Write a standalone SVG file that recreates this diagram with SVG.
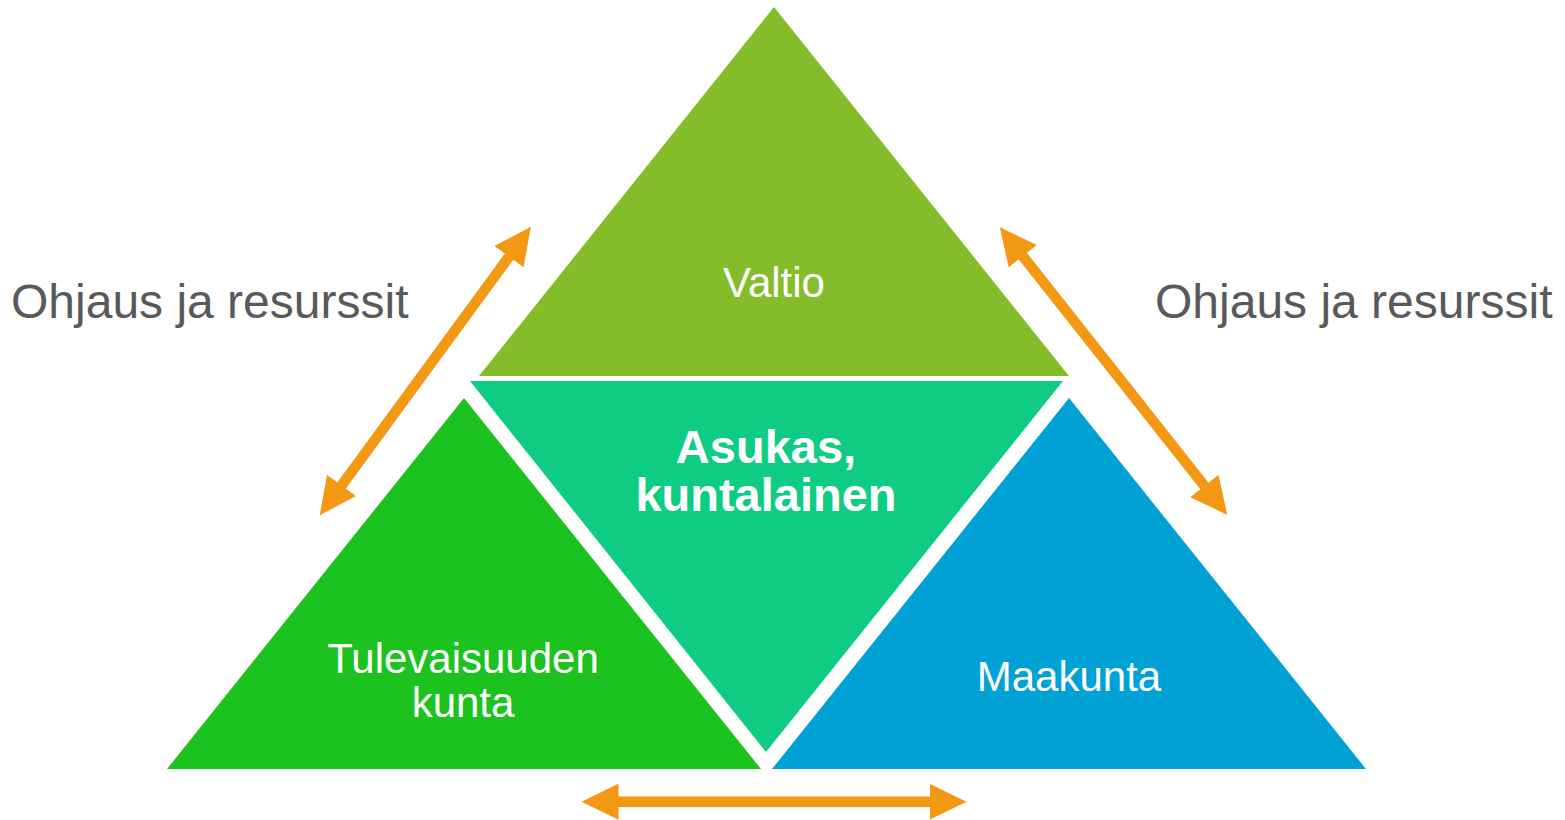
<svg xmlns="http://www.w3.org/2000/svg" width="1565" height="820" viewBox="0 0 1565 820">
<style>
.lbl{font-family:"Liberation Sans",Arial,sans-serif;fill:#ffffff;text-anchor:middle;font-size:42px}
.side{font-family:"Liberation Sans",Arial,sans-serif;fill:#595959;font-size:48px}
.bold{font-weight:bold;font-size:47px}
.conn{stroke:#F39813;stroke-width:10.5;fill:none}
</style>
<defs>
<marker id="ah" viewBox="0 0 37 36" markerWidth="37" markerHeight="36" refX="0.5" refY="18" orient="auto-start-reverse" markerUnits="userSpaceOnUse">
<path d="M0,0 L37,18 L0,36 Z" fill="#F39813"/>
</marker>
</defs>
<rect width="1565" height="820" fill="#ffffff"/>
<g id="valtio">
<polygon points="774,7 479,376 1069,376" fill="#84BC2A"/>
<text class="lbl" x="774" y="297">Valtio</text>
</g>
<g id="asukas">
<polygon points="470,381 1063,381 766,752" fill="#0ECC84"/>
<text class="lbl bold" x="766" y="463">Asukas,</text>
<text class="lbl bold" x="766" y="511">kuntalainen</text>
</g>
<g id="kunta">
<polygon points="464,398 167,769 761,769" fill="#1CC31E"/>
<text class="lbl" x="463" y="673">Tulevaisuuden</text>
<text class="lbl" x="463" y="717">kunta</text>
</g>
<g id="maakunta">
<polygon points="1069,398 772,769 1366,769" fill="#00A2D6"/>
<text class="lbl" x="1069" y="691">Maakunta</text>
</g>
<g id="label-left">
<text class="side" x="11" y="318">Ohjaus ja resurssit</text>
</g>
<g id="label-right">
<text class="side" x="1155" y="318">Ohjaus ja resurssit</text>
</g>
<g id="connectors">
<line class="conn" x1="341.3" y1="485.8" x2="509.3" y2="256.3" marker-start="url(#ah)" marker-end="url(#ah)"/>
<line class="conn" x1="1022.5" y1="255.8" x2="1204.7" y2="486.3" marker-start="url(#ah)" marker-end="url(#ah)"/>
<line class="conn" x1="618" y1="801.7" x2="930" y2="801.7" marker-start="url(#ah)" marker-end="url(#ah)"/>
</g>
</svg>
